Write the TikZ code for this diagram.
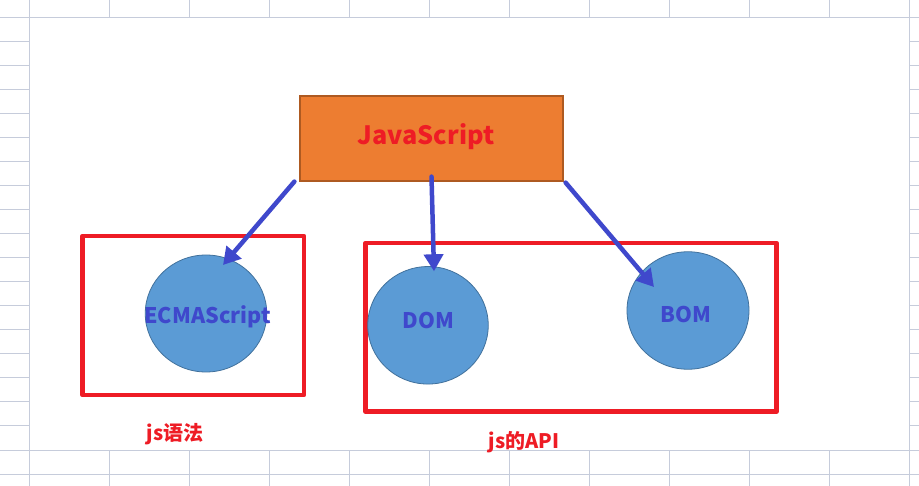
\documentclass[tikz,border=0pt]{standalone}
\usepackage{fontspec}
\setmainfont{Noto Sans CJK SC}
\usetikzlibrary{arrows.meta,shapes.geometric,calc}
\definecolor{gridc}{HTML}{C6CCDB}
\definecolor{jsorange}{HTML}{ED7D31}
\definecolor{jsborder}{HTML}{AE5A21}
\definecolor{tred}{HTML}{EE1C25}
\definecolor{tblue}{HTML}{3F48CC}
\definecolor{efill}{HTML}{5B9BD5}
\definecolor{eborder}{HTML}{41719C}
\tikzset{
  gridline/.style={draw=gridc,line width=1pt},
  topbox/.style={rectangle,fill=jsorange,draw=jsborder,line width=1.2pt,inner sep=0pt},
  circ/.style={ellipse,fill=efill,draw=eborder,line width=0.8pt,inner sep=0pt},
  grp/.style={rectangle,draw=tred,line width=4.5pt,line join=round,inner sep=0pt},
  arr/.style={draw=tblue,line width=4.5pt,line cap=round,-{Triangle[length=17pt,width=19pt]}},
  redlabel/.style={text=tred,font=\bfseries\fontsize{20}{20}\selectfont,anchor=base,inner sep=0pt},
  bluelabel/.style={text=tblue,font=\bfseries\fontsize{21.5}{21.5}\selectfont,anchor=base,inner sep=0pt},
}
\begin{document}
\begin{tikzpicture}[x=1pt,y=-1pt]
\useasboundingbox (0,0) rectangle (919,486);
\fill[white] (0,0) rectangle (919,486);
% grid
\foreach \k in {1,...,11} {
  \draw[gridline] ({29.5+80*\k},0) -- ({29.5+80*\k},18);
  \draw[gridline] ({29.5+80*\k},450) -- ({29.5+80*\k},486);
}
\draw[gridline] (29.5,0) -- (29.5,486);
\draw[gridline] (909.5,0) -- (909.5,486);
\foreach \j in {1,...,17} {
  \draw[gridline] (0,{18+24*\j}) -- (29.5,{18+24*\j});
  \draw[gridline] (909.5,{18+24*\j}) -- (919,{18+24*\j});
}
\draw[gridline] (0,18) -- (919,18);
\draw[gridline] (0,450) -- (919,450);
\draw[gridline] (0,474) -- (919,474);
% group boxes
\node[grp,minimum width=221.5pt,minimum height=159pt] (g1) at (193.25,315.5) {};
\node[grp,minimum width=411pt,minimum height=168.5pt] (g2) at (571,327.25) {};
% main box
\node[topbox,minimum width=263pt,minimum height=85pt] (js) at (431.5,138.5) {};
\node[text=tred,font=\bfseries\fontsize{25.2}{25.2}\selectfont,anchor=base,inner sep=0pt] (jst) at (426,145) {JavaScript};
% ellipses
\node[circ,minimum width=121.5pt,minimum height=117pt] (ecma) at (206,313.5) {};
\node[circ,minimum width=120.5pt,minimum height=117.5pt] (dom) at (428,325.3) {};
\node[circ,minimum width=122pt,minimum height=117.5pt] (bom) at (688,310.5) {};
\node[bluelabel] (ecmat) at (207.5,323.3) {ECMAScript};
\node[bluelabel] (domt) at (428.3,328.3) {DOM};
\node[bluelabel] (bomt) at (686,322.7) {BOM};
% arrows
\coordinate (a1s) at ([xshift=-5pt]js.south west);
\coordinate (a1e) at ($(ecma.center)+(17,-48.5)$);
\coordinate (a2s) at ([yshift=5pt]js.south);
\coordinate (a2e) at ($(dom.center)+(6,-54)$);
\coordinate (a3s) at ([xshift=2pt,yshift=-1pt]js.south east);
\coordinate (a3e) at ($(bom.center)+(-34,-23.5)$);
\draw[arr] (a1s) -- (a1e);
\draw[arr] (a2s) -- (a2e);
\draw[arr] (a3s) -- (a3e);
% labels
\node[redlabel] (l1) at (175,440) {js语法};
\node[redlabel] (l2) at (524,448) {js的API};
\end{tikzpicture}
\end{document}
